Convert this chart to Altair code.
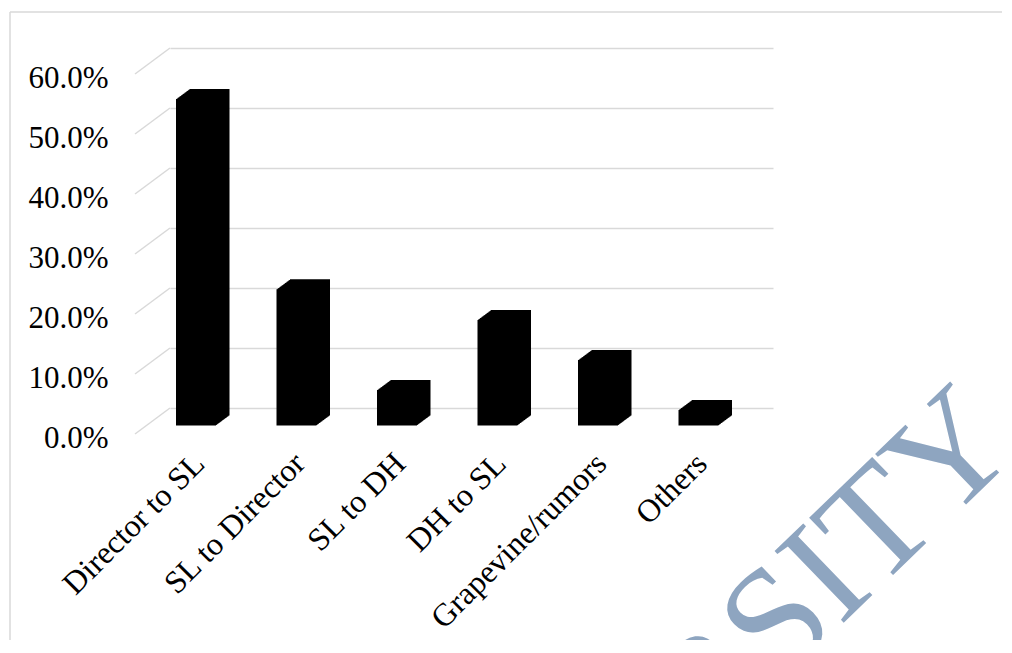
import altair as alt
import pandas as pd

categories = ["Director to SL", "SL to Director", "SL to DH", "DH to SL", "Grapevine/rumors", "Others"]
values = [0.544, 0.227, 0.059, 0.176, 0.109, 0.026]
tick_values = [0.0, 0.1, 0.2, 0.3, 0.4, 0.5, 0.6]
watermark = ["RSITY"]

df = pd.DataFrame({"cat": categories, "val": values})
ticks_df = pd.DataFrame({"v": tick_values})
wm_df = pd.DataFrame({"t": watermark})

FONT = "Liberation Serif"
W, H = 603, 360

xscale = alt.Scale(domain=categories, paddingInner=0, paddingOuter=0)
yscale = alt.Scale(domain=[0, 0.6], nice=False, zero=True)

layers = []

# perspective "floor" ticks of the gridlines (from back wall to front edge)
slant = alt.Chart(ticks_df).mark_rule(color="#d9d9d9", strokeWidth=1.5, y2Offset=26).encode(
    y=alt.Y("v:Q", scale=yscale,
            axis=alt.Axis(values=tick_values, format=".1%", grid=True, gridColor="#d9d9d9",
                          gridWidth=1.5, domain=False, ticks=False, labelPadding=62,
                          labelOffset=30, labelFont=FONT, labelFontSize=31,
                          labelColor="#000000", labelBaseline="middle", title=None)),
    y2="v:Q",
    x=alt.value(0),
    x2=alt.value(-35),
)
layers.append(slant)

# 3D bars approximated by stacking depth slices
N = 16
for k in range(N + 1):
    t = k / N
    dx = -10.75 - 13.5 * t
    dy = 7.5 + 10 * t
    layer = alt.Chart(df).mark_bar(color="#000000", size=40, xOffset=dx, x2Offset=dx,
                                   yOffset=dy, y2Offset=dy).encode(
        x=alt.X("cat:N", scale=xscale, sort=categories,
                axis=alt.Axis(labelAngle=-45, labelAlign="right", labelBaseline="middle",
                              labelOffset=-21, labelPadding=50, domain=False, ticks=False,
                              labelFont=FONT, labelFontSize=32, labelColor="#000000",
                              labelLimit=0, title=None)),
        y=alt.Y("val:Q", scale=yscale),
    )
    layers.append(layer)

# chart frame
frame_left = alt.Chart(wm_df).mark_rule(color="#d9d9d9", strokeWidth=1.5).encode(
    x=alt.value(-160), y=alt.value(-36), y2=alt.value(600))
frame_top = alt.Chart(wm_df).mark_rule(color="#d9d9d9", strokeWidth=1.5).encode(
    x=alt.value(-160), x2=alt.value(840), y=alt.value(-36))
layers += [frame_left, frame_top]

# watermark
wm = alt.Chart(wm_df).mark_text(font=FONT, fontSize=152, color="#8EA5C0", angle=316,
                                align="center", baseline="middle").encode(
    text="t:N", x=alt.value(662), y=alt.value(522))
layers.append(wm)

chart = alt.layer(*layers).properties(
    width=W, height=H,
    autosize=alt.AutoSizeParams(type="none"),
    padding={"left": 162, "top": 40, "right": 229, "bottom": 232},
    background="#ffffff",
).configure_view(stroke=None)

chart.save("out.html", embed_options={"renderer": "svg", "actions": False})
